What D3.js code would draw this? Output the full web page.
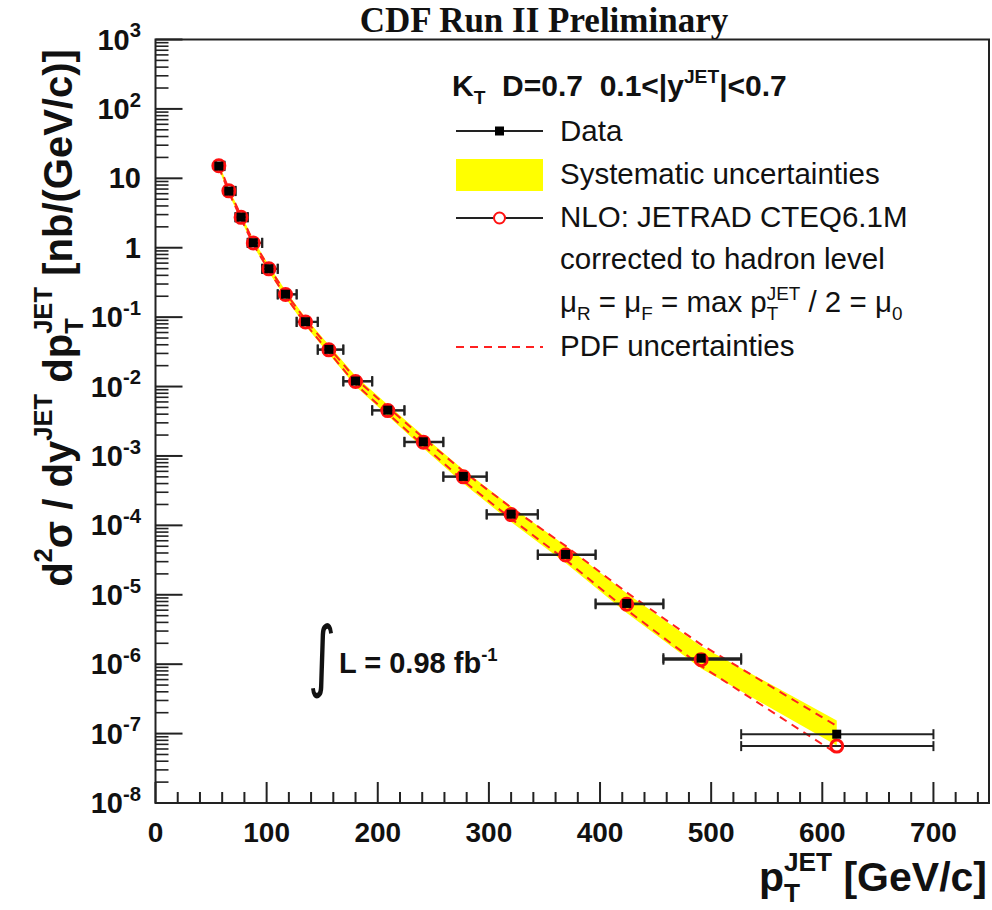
<!DOCTYPE html>
<html>
<head>
<meta charset="utf-8">
<script src="https://cdn.jsdelivr.net/npm/d3@7"></script>
<style>
  body { margin: 0; background: #ffffff; }
  svg { display: block; }
  text { font-family: "Liberation Sans", Arial, Helvetica, sans-serif; white-space: pre; fill: #111; }
</style>
</head>
<body>
<svg id="chart" width="992" height="910"></svg>
<script>
// Inclusive jet cross section, kT D=0.7, 0.1<|y|<0.7
const ptCenter = [57, 66, 77, 88, 102, 117, 135, 156, 180, 209, 241, 277, 320, 369, 424, 491, 613];
const ptLow    = [54, 62, 72, 83, 96, 110, 127, 146, 169, 195, 224, 259, 298, 344, 396, 457, 527];
const ptHigh   = [62, 72, 83, 96, 110, 127, 146, 169, 195, 224, 259, 298, 344, 396, 457, 527, 700];
const dataXsec = [15.0, 6.54, 2.76, 1.18, 0.498, 0.214, 0.0859, 0.0343, 0.0120, 4.57e-3, 1.60e-3,
                  5.07e-4, 1.45e-4, 3.81e-5, 7.5e-6, 1.22e-6, 9.8e-8];
const nloXsec  = [15.2, 6.60, 2.74, 1.17, 0.496, 0.212, 0.0850, 0.0338, 0.0118, 4.50e-3, 1.58e-3,
                  5.0e-4, 1.43e-4, 3.75e-5, 7.3e-6, 1.16e-6, 6.6e-8];
// systematic uncertainty on the data, percent
const sysUpPct   = [10, 10, 10, 11, 12, 13, 14, 16, 18, 20, 22, 25, 29, 34, 40, 48, 58];
const sysDownPct = [10, 10, 10, 10, 11, 12, 13, 14, 16, 17, 19, 21, 23, 25, 27, 29, 31];
// PDF uncertainty on the NLO prediction, percent
const pdfUpPct   = [5, 5, 5, 5, 6, 6, 7, 8, 10, 12, 15, 20, 26, 35, 48, 65, 95];
const pdfDownPct = [5, 5, 5, 5, 5, 6, 6, 7, 8, 9, 10, 12, 13, 15, 17, 19, 22];

const xTickValues = [0, 100, 200, 300, 400, 500, 600, 700];
const yTickExponents = [-8, -7, -6, -5, -4, -3, -2, -1, 0, 1, 2, 3];

const svg = d3.select("#chart");
const frame = { left: 155.5, right: 989, top: 39.5, bottom: 803 };

const x = d3.scaleLinear().domain([0, 750]).range([frame.left, frame.right]);
const y = d3.scaleLog().domain([1e-8, 1e3]).range([frame.bottom, frame.top]);

const INK = "#222";

// ---- rich text: pieces with optional sub/superscripts stacked at the same x
function richText(parent, parts, size, weight, opts = {}) {
  const g = parent.append("g");
  const small = size * (opts.ratio || 0.64);
  const supY = -size * (opts.supRaise || 0.42);
  let cx = 0;
  parts.forEach(p => {
    if (p.t !== undefined) {
      const el = g.append("text").attr("x", cx).attr("y", 0)
        .attr("font-size", size).attr("font-weight", weight).text(p.t);
      cx += el.node().getComputedTextLength();
    }
    let w = 0;
    if (p.sup !== undefined) {
      const el = g.append("text").attr("x", cx).attr("y", supY)
        .attr("font-size", small).attr("font-weight", weight).text(p.sup);
      w = Math.max(w, el.node().getComputedTextLength());
    }
    if (p.sub !== undefined) {
      const el = g.append("text").attr("x", cx).attr("y", size * 0.28)
        .attr("font-size", small).attr("font-weight", weight).text(p.sub);
      w = Math.max(w, el.node().getComputedTextLength());
    }
    cx += w;
  });
  return { g, width: cx };
}

// ---- title
svg.append("text").attr("x", 544).attr("y", 32).attr("text-anchor", "middle")
  .style("font-family", "'Liberation Serif', 'Times New Roman', serif")
  .attr("font-size", 35).attr("font-weight", "bold").text("CDF Run II Preliminary");

const plot = svg.append("g");

// ---- systematic band around the data
const band = ptCenter.map((p, i) => ({
  p, hi: dataXsec[i] * (1 + sysUpPct[i] / 100), lo: dataXsec[i] * (1 - sysDownPct[i] / 100)
}));
plot.append("path").datum(band)
  .attr("d", d3.area().x(d => x(d.p)).y0(d => y(d.lo)).y1(d => y(d.hi)))
  .attr("fill", "#ffff00").attr("stroke", "none");

// ---- PDF uncertainty curves on the NLO prediction
const pdfUp = ptCenter.map((p, i) => [p, nloXsec[i] * (1 + pdfUpPct[i] / 100)]);
const pdfDown = ptCenter.map((p, i) => [p, nloXsec[i] * (1 - pdfDownPct[i] / 100)]);
const pdfLine = d3.line().x(d => x(d[0])).y(d => y(d[1]));
[pdfUp, pdfDown].forEach(c => {
  plot.append("path").datum(c).attr("d", pdfLine).attr("fill", "none")
    .attr("stroke", "#ff2020").attr("stroke-width", 2).attr("stroke-dasharray", "8,6");
});

// ---- horizontal bin-width bars with end caps
function binBars(values) {
  const g = plot.append("g").attr("stroke", INK).attr("stroke-width", 2);
  values.forEach((v, i) => {
    const yy = y(v), x0 = x(ptLow[i]), x1 = x(ptHigh[i]);
    g.append("line").attr("x1", x0).attr("x2", x1).attr("y1", yy).attr("y2", yy);
    g.append("line").attr("x1", x0).attr("x2", x0).attr("y1", yy - 5).attr("y2", yy + 5);
    g.append("line").attr("x1", x1).attr("x2", x1).attr("y1", yy - 5).attr("y2", yy + 5);
  });
}
binBars(nloXsec);
binBars(dataXsec);

// NLO markers: open red circles
plot.append("g").selectAll("circle").data(nloXsec).join("circle")
  .attr("cx", (d, i) => x(ptCenter[i])).attr("cy", d => y(d)).attr("r", 6)
  .attr("fill", "none").attr("stroke", "#ff1010").attr("stroke-width", 3);

// Data markers: black squares
plot.append("g").selectAll("rect").data(dataXsec).join("rect")
  .attr("x", (d, i) => x(ptCenter[i]) - 4.5).attr("y", d => y(d) - 4.5)
  .attr("width", 9).attr("height", 9).attr("fill", "#000");

// ---- frame
svg.append("rect").attr("x", frame.left).attr("y", frame.top)
  .attr("width", frame.right - frame.left).attr("height", frame.bottom - frame.top)
  .attr("fill", "none").attr("stroke", INK).attr("stroke-width", 2);

// ---- x axis ticks and labels
const xAxisG = svg.append("g");
d3.range(0, 751, 20).forEach(v => {
  const major = v % 100 === 0;
  xAxisG.append("line").attr("x1", x(v)).attr("x2", x(v))
    .attr("y1", frame.bottom).attr("y2", frame.bottom - (major ? 21 : 11))
    .attr("stroke", INK).attr("stroke-width", 2);
});
xTickValues.forEach(v => {
  xAxisG.append("text").attr("x", x(v)).attr("y", 842).attr("text-anchor", "middle")
    .attr("font-size", 28).attr("font-weight", "bold").text(v);
});

// ---- y axis ticks and labels
const yAxisG = svg.append("g");
yTickExponents.forEach(e => {
  const v = Math.pow(10, e);
  yAxisG.append("line").attr("x1", frame.left).attr("x2", frame.left + 27)
    .attr("y1", y(v)).attr("y2", y(v)).attr("stroke", INK).attr("stroke-width", 2);
  if (e < 3) {
    for (let m = 2; m <= 9; m++) {
      yAxisG.append("line").attr("x1", frame.left).attr("x2", frame.left + 13)
        .attr("y1", y(m * v)).attr("y2", y(m * v)).attr("stroke", INK).attr("stroke-width", 1.6);
    }
  }
  let parts;
  if (e === 0) parts = [{ t: "1" }];
  else if (e === 1) parts = [{ t: "10" }];
  else parts = [{ t: "10", sup: String(e) }];
  const r = richText(yAxisG, parts, 29, "bold", { ratio: 0.7 });
  r.g.attr("transform", `translate(${141 - r.width},${y(v) + 10})`);
});

// ---- axis titles
const yTitle = richText(svg, [
  { t: "d", sup: "2" }, { t: "σ / dy", sup: "JET" }, { t: " dp", sub: "T", sup: "JET" },
  { t: " [nb/(GeV/c)]" }
], 40, "bold", { supRaise: 0.5 });
yTitle.g.attr("transform", `translate(72,${318 + yTitle.width / 2}) rotate(-90)`);

const xTitle = richText(svg, [{ t: "p", sub: "T", sup: "JET" }, { t: " [GeV/c]" }], 41, "bold", { supRaise: 0.5 });
xTitle.g.attr("transform", `translate(${987 - xTitle.width},891)`);

// ---- legend
const leg = svg.append("g");
const FS = 29.5;
const hdr = richText(leg, [
  { t: "K", sub: "T" }, { t: "  D=0.7  0.1<|y", sup: "JET" }, { t: "|<0.7" }
], 30, "bold");
hdr.g.attr("transform", "translate(452,96)");

const lx0 = 456, lx1 = 543, lxm = 499.5, tx = 560;
leg.append("line").attr("x1", lx0).attr("x2", lx1).attr("y1", 131).attr("y2", 131)
  .attr("stroke", INK).attr("stroke-width", 2);
leg.append("rect").attr("x", lxm - 4.5).attr("y", 126.5).attr("width", 9).attr("height", 9).attr("fill", "#000");
leg.append("text").attr("x", tx).attr("y", 141).attr("font-size", FS).text("Data");

leg.append("rect").attr("x", lx0).attr("y", 159).attr("width", lx1 - lx0).attr("height", 32).attr("fill", "#ffff00");
leg.append("text").attr("x", tx).attr("y", 184).attr("font-size", FS).text("Systematic uncertainties");

leg.append("line").attr("x1", lx0).attr("x2", lx1).attr("y1", 218).attr("y2", 218)
  .attr("stroke", INK).attr("stroke-width", 2);
leg.append("circle").attr("cx", lxm).attr("cy", 218).attr("r", 5.5)
  .attr("fill", "#fff").attr("stroke", "#ff1010").attr("stroke-width", 2);
leg.append("text").attr("x", tx).attr("y", 227).attr("font-size", FS).text("NLO: JETRAD CTEQ6.1M");
leg.append("text").attr("x", tx).attr("y", 269).attr("font-size", FS).text("corrected to hadron level");
const mu = richText(leg, [
  { t: "μ", sub: "R" }, { t: " = μ", sub: "F" }, { t: " = max p", sub: "T", sup: "JET" },
  { t: " / 2 = μ", sub: "0" }
], FS, "normal");
mu.g.attr("transform", `translate(${tx},312)`);

leg.append("line").attr("x1", lx0).attr("x2", lx1).attr("y1", 347).attr("y2", 347)
  .attr("stroke", "#ff2020").attr("stroke-width", 2).attr("stroke-dasharray", "8,6");
leg.append("text").attr("x", tx).attr("y", 356).attr("font-size", FS).text("PDF uncertainties");

// ---- luminosity
svg.append("text").attr("transform", "translate(308,682) scale(0.9,1.3)").attr("font-size", 60)
  .style("font-family", "'DejaVu Sans', sans-serif").text("∫");
const lumi = richText(svg, [{ t: "L = 0.98 fb", sup: "-1" }], 29, "bold");
lumi.g.attr("transform", "translate(339,673)");
</script>
</body>
</html>
